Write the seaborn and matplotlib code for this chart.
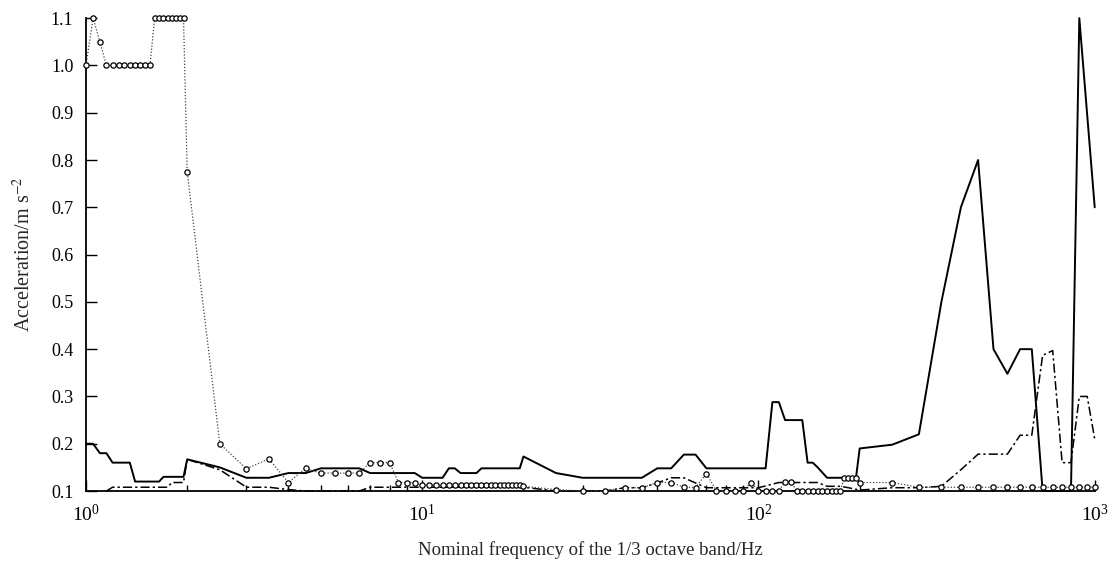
import numpy as np
import pandas as pd
import matplotlib
matplotlib.use("Agg")
import matplotlib.pyplot as plt
import seaborn as sns
from matplotlib.ticker import FixedLocator, LogLocator, FormatStrFormatter, NullFormatter

# ---------------- data ----------------
# solid series
S_x = [1.0, 1.05, 1.1, 1.15, 1.2, 1.35, 1.4, 1.65, 1.7, 1.95,
       2.0, 2.5, 3.0, 3.5, 4.0, 4.5, 5.0, 6.5, 7.0, 9.5,
       10.0, 11.5, 12.0, 12.5, 13.0, 14.5, 15.0, 19.5, 20.0, 25,
       30, 45, 50, 55, 60, 65, 70, 105, 110, 115,
       120, 135, 140, 145, 150, 160, 195, 200, 250, 300,
       350, 400, 450, 500, 550, 600, 650, 700, 750, 800,
       850, 900, 1000]
S_y = [0.2, 0.2, 0.18, 0.18, 0.16, 0.16, 0.12, 0.12, 0.13, 0.13,
       0.167, 0.15, 0.128, 0.128, 0.138, 0.138, 0.148, 0.148, 0.138, 0.138,
       0.128, 0.128, 0.148, 0.148, 0.138, 0.138, 0.148, 0.148, 0.173, 0.138,
       0.128, 0.128, 0.148, 0.148, 0.177, 0.177, 0.148, 0.148, 0.288, 0.288,
       0.25, 0.25, 0.16, 0.16, 0.15, 0.128, 0.128, 0.19, 0.198, 0.22,
       0.5, 0.7, 0.8, 0.4, 0.348, 0.4, 0.4, 0.1, 0.1, 0.1,
       0.1, 1.1, 0.7]

# dash-dot series
D_x = [1.15, 1.2, 1.75, 1.8, 1.95, 2.0, 2.5, 3.0, 3.5, 4.0, 4.5,
       6.5, 7.0, 20.0, 25, 35, 40, 45, 50, 55, 60, 65, 70,
       100, 115, 150, 160, 175, 185, 200, 250, 300, 350,
       400, 450, 500, 550, 600, 650, 700, 750, 800, 850,
       900, 950, 1000]
D_y = [0.1, 0.108, 0.108, 0.118, 0.118, 0.167, 0.145, 0.108, 0.108, 0.103, 0.1,
       0.1, 0.108, 0.108, 0.1, 0.1, 0.107, 0.107, 0.117, 0.128, 0.128, 0.117, 0.107,
       0.107, 0.118, 0.118, 0.11, 0.11, 0.107, 0.102, 0.107, 0.107, 0.11,
       0.145, 0.178, 0.178, 0.178, 0.218, 0.218, 0.387, 0.397, 0.16, 0.16,
       0.3, 0.3, 0.21]

# dotted series with open circles
O_x = [1.0, 1.05, 1.1,
       1.15, 1.2, 1.25, 1.3, 1.35, 1.4, 1.45, 1.5, 1.55,
       1.6, 1.65, 1.7, 1.75, 1.8, 1.85, 1.9, 1.95,
       2.0, 2.5, 3.0, 3.5, 4.0, 4.5,
       5.0, 5.5, 6.0, 6.5,
       7.0, 7.5, 8.0,
       8.5, 9.0, 9.5,
       10.0, 10.5, 11.0, 11.5, 12.0, 12.5, 13.0, 13.5, 14.0, 14.5,
       15.0, 15.5, 16.0, 16.5, 17.0, 17.5, 18.0, 18.5, 19.0, 19.5, 20.0,
       25, 30, 35, 40, 45, 50, 55, 60, 65, 70, 75, 80, 85, 90, 95,
       100, 105, 110, 115,
       120, 125,
       130, 135, 140, 145, 150, 155, 160, 165, 170, 175,
       180, 185, 190, 195,
       200, 250,
       300, 350, 400, 450, 500, 550, 600, 650, 700, 750, 800, 850, 900, 950, 1000]
O_y = [1.0, 1.1, 1.05,
       1.0, 1.0, 1.0, 1.0, 1.0, 1.0, 1.0, 1.0, 1.0,
       1.1, 1.1, 1.1, 1.1, 1.1, 1.1, 1.1, 1.1,
       0.775, 0.2, 0.147, 0.168, 0.118, 0.148,
       0.138, 0.138, 0.138, 0.138,
       0.16, 0.16, 0.16,
       0.118, 0.118, 0.118,
       0.113, 0.113, 0.113, 0.113, 0.113, 0.113, 0.113, 0.113, 0.113, 0.113,
       0.113, 0.113, 0.113, 0.113, 0.113, 0.113, 0.113, 0.113, 0.113, 0.113, 0.11,
       0.103, 0.1, 0.1, 0.107, 0.107, 0.118, 0.118, 0.108, 0.107, 0.137, 0.1, 0.1, 0.1, 0.1, 0.118,
       0.1, 0.1, 0.1, 0.1,
       0.12, 0.12,
       0.1, 0.1, 0.1, 0.1, 0.1, 0.1, 0.1, 0.1, 0.1, 0.1,
       0.128, 0.128, 0.128, 0.128,
       0.118, 0.118,
       0.108, 0.108, 0.108, 0.108, 0.108, 0.108, 0.108, 0.108, 0.108, 0.108, 0.108, 0.108, 0.108, 0.108, 0.108]

y_ticks = [0.1, 0.2, 0.3, 0.4, 0.5, 0.6, 0.7, 0.8, 0.9, 1.0, 1.1]
x_major = [1, 10, 100, 1000]

# ---------------- style ----------------
sns.set_style("ticks")
plt.rcParams["font.family"] = ["Liberation Serif", "DejaVu Serif"]
plt.rcParams["mathtext.fontset"] = "stix"

fig = plt.figure(figsize=(11.08, 5.67), dpi=100)
ax = fig.add_axes([0.0776, 0.134, 0.9104, 0.834])

sdf = pd.DataFrame({"f": S_x, "a": S_y})
ddf = pd.DataFrame({"f": D_x, "a": D_y})
odf = pd.DataFrame({"f": O_x, "a": O_y})

sns.lineplot(data=sdf, x="f", y="a", ax=ax, estimator=None, sort=False,
             color="black", linewidth=1.4, clip_on=False, zorder=3)
sns.lineplot(data=ddf, x="f", y="a", ax=ax, estimator=None, sort=False,
             color="black", linewidth=1.1, linestyle=(0, (6, 2, 1.5, 2)),
             clip_on=False, zorder=2)
sns.lineplot(data=odf, x="f", y="a", ax=ax, estimator=None, sort=False,
             color="#444444", linewidth=0.9, linestyle=(0, (1, 1.5)),
             marker="o", markersize=3.8, markerfacecolor="white",
             markeredgecolor="black", markeredgewidth=0.9,
             clip_on=False, zorder=4)

ax.set_xscale("log")
ax.set_xlim(1, 1000)
ax.set_ylim(0.1, 1.1)
ax.yaxis.set_major_locator(FixedLocator(y_ticks))
ax.yaxis.set_major_formatter(FormatStrFormatter("%.1f"))
ax.xaxis.set_major_locator(FixedLocator(x_major))
ax.xaxis.set_minor_locator(LogLocator(base=10, subs=np.arange(2, 10)))
ax.xaxis.set_minor_formatter(NullFormatter())
ax.xaxis.set_major_formatter(matplotlib.ticker.LogFormatterSciNotation())

ax.tick_params(axis="both", which="major", direction="in", length=8, width=1,
               labelsize=13, color="black", labelcolor="black", pad=9)
ax.tick_params(axis="x", which="major", labelsize=14)
ax.tick_params(axis="x", which="minor", direction="in", length=4, width=1, color="black")
ax.tick_params(axis="y", which="minor", left=False)

for s in ["top", "right"]:
    ax.spines[s].set_visible(False)
for s in ["left", "bottom"]:
    ax.spines[s].set_linewidth(1.3)
    ax.spines[s].set_color("black")

ax.set_xlabel("Nominal frequency of the 1/3 octave band/Hz", fontsize=13.5, labelpad=12)
ax.set_ylabel("Acceleration/m s$^{-2}$", fontsize=14.5, labelpad=11)

fig.savefig("out.png", dpi=100)
